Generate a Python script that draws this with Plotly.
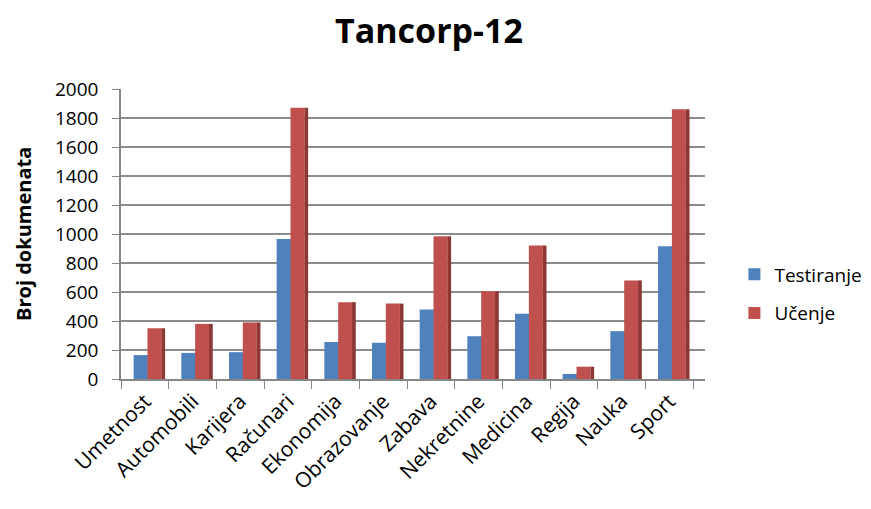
import plotly.graph_objects as go

categories = ["Umetnost", "Automobili", "Karijera", "Računari", "Ekonomija", "Obrazovanje",
              "Zabava", "Nekretnine", "Medicina", "Regija", "Nauka", "Sport"]
testiranje = [165, 180, 185, 965, 255, 250, 480, 295, 450, 35, 330, 915]
ucenje = [350, 380, 390, 1870, 530, 520, 985, 605, 920, 85, 680, 1860]
y_ticks = [0, 200, 400, 600, 800, 1000, 1200, 1400, 1600, 1800, 2000]

FONT = "Open Sans"
BLUE, BLUE_DARK = "#4F81BD", "#385D8A"
RED, RED_DARK = "#C0504D", "#8C3836"

fig = go.Figure()
# side faces (pseudo 3D)
fig.add_trace(go.Bar(x=categories, y=testiranje, showlegend=False, hoverinfo="skip",
                     offset=0.055, width=0.07, marker=dict(color=BLUE_DARK, line=dict(width=0))))
fig.add_trace(go.Bar(x=categories, y=ucenje, showlegend=False, hoverinfo="skip",
                     offset=0.345, width=0.08, marker=dict(color=RED_DARK, line=dict(width=0))))
# front faces
fig.add_trace(go.Bar(x=categories, y=testiranje, name="Testiranje", legendgroup="a",
                     offset=-0.235, width=0.295, marker=dict(color=BLUE, line=dict(width=0))))
fig.add_trace(go.Bar(x=categories, y=ucenje, name="Učenje", legendgroup="b",
                     offset=0.055, width=0.295, marker=dict(color=RED, line=dict(width=0))))

fig.update_layout(
    width=871, height=509,
    paper_bgcolor="white", plot_bgcolor="white",
    margin=dict(l=113, r=174, t=81, b=138, autoexpand=False),
    barmode="overlay",
    title=dict(text="<b>Tancorp-12</b>", x=(429 - 8) / 871, xanchor="center",
               y=0.978, yanchor="top",
               font=dict(family=FONT, size=34, color="black")),
    font=dict(family=FONT, color="black"),
    legend=dict(xref="container", x=0.834, xanchor="left", y=0.426, yanchor="top",
                traceorder="grouped",
                tracegroupgap=11, font=dict(family=FONT, size=19, color="black"),
                itemwidth=30, bgcolor="rgba(0,0,0,0)"),
    xaxis=dict(tickangle=-45, tickfont=dict(family=FONT, size=21, color="black"),
               showline=True, linecolor="#868686", linewidth=1.5, automargin=False,
               ticks="outside", tickson="boundaries", ticklen=8, tickcolor="#868686",
               showgrid=False, range=[-0.5, 11.75]),
    yaxis=dict(range=[0, 2000], tickvals=y_ticks, tickfont=dict(family=FONT, size=19, color="black"),
               showline=True, linecolor="#868686", linewidth=1.5, automargin=False,
               ticks="outside", ticklen=7, tickcolor="#868686", ticklabelstandoff=10,
               showgrid=True, gridcolor="#8C8C8C", gridwidth=1.5, zeroline=False),
    annotations=[dict(text="<b>Broj dokumenata</b>", xref="paper", yref="paper",
                      x=(23 - 121) / 584, y=0.5, xanchor="center", yanchor="middle",
                      textangle=-90, showarrow=False,
                      font=dict(family=FONT, size=20, color="black"))],
)

fig.write_html("out.html")
